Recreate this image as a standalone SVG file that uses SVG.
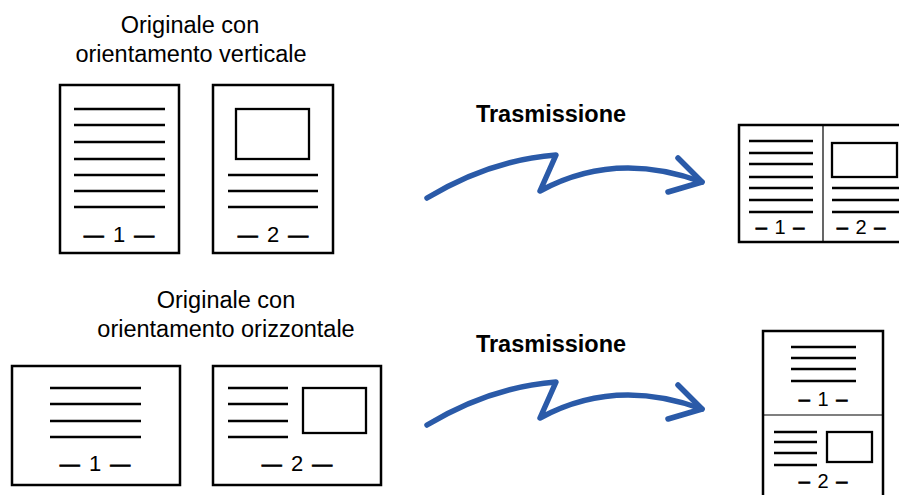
<svg xmlns="http://www.w3.org/2000/svg" width="899" height="495" viewBox="0 0 899 495">
<style>
.pg{fill:#fff;stroke:#000;stroke-width:2.5}
.ln{stroke:#000;stroke-width:2.4;fill:none}
.bx{fill:#fff;stroke:#000;stroke-width:2.3}
.dv{stroke:#000;stroke-width:1.2}
.cap{font-family:"Liberation Sans",Arial,sans-serif;font-size:23.5px;fill:#000;text-anchor:middle}
.tr{font-family:"Liberation Sans",Arial,sans-serif;font-size:23.5px;font-weight:bold;fill:#000;text-anchor:middle}
.num{font-family:"Liberation Sans",Arial,sans-serif;font-size:22px;fill:#000;text-anchor:middle;word-spacing:3px}
.sn{font-family:"Liberation Sans",Arial,sans-serif;font-size:20px;fill:#000;text-anchor:middle;word-spacing:2px}
.d{stroke:#000;stroke-width:0.8}
.num .d{font-size:20px}
.ar{fill:none;stroke:#2a5aa8;stroke-width:5.5;stroke-linecap:round;stroke-linejoin:round}
</style>
<defs>
<g id="arrowShape">
<path class="ar" d="M427,198 Q490,160 556,155 L540,191 Q615,150 702,182"/>
<path class="ar" d="M678,158 L702,182 L668,192"/>
</g>
</defs>

<g id="label-portrait">
<text class="cap" x="190" y="33">Originale con</text>
<text class="cap" x="191" y="62">orientamento verticale</text>
</g>

<g id="portrait-page1">
<rect class="pg" x="60" y="85" width="119" height="168"/>
<path class="ln" d="M74,109H165M74,125H165M74,142H165M74,159H165M74,175H165M74,191H165M74,207H165"/>
<text class="num" x="119" y="242"><tspan class="d">—</tspan> 1 <tspan class="d">—</tspan></text>
</g>

<g id="portrait-page2">
<rect class="pg" x="213" y="85" width="120" height="168"/>
<rect class="bx" x="236" y="109" width="73" height="50"/>
<path class="ln" d="M228,175H318M228,191H318M228,207H318"/>
<text class="num" x="273" y="242"><tspan class="d">—</tspan> 2 <tspan class="d">—</tspan></text>
</g>

<g id="label-trasm-1">
<text class="tr" x="551" y="122">Trasmissione</text>
</g>

<g id="result-portrait">
<rect class="pg" x="739" y="125" width="168" height="117"/>
<line class="dv" x1="823" y1="125" x2="823" y2="242"/>
<path class="ln" d="M749,141H813M749,153H813M749,164H813M749,177H813M749,188H813M749,200H813M749,212H813"/>
<text class="sn" x="780" y="234"><tspan class="d">–</tspan> 1 <tspan class="d">–</tspan></text>
<rect class="bx" x="832" y="143" width="65" height="34"/>
<path class="ln" d="M832,188H899M832,200H899M832,212H899"/>
<text class="sn" x="861" y="234"><tspan class="d">–</tspan> 2 <tspan class="d">–</tspan></text>
</g>

<g id="label-landscape">
<text class="cap" x="226" y="308">Originale con</text>
<text class="cap" x="226" y="337">orientamento orizzontale</text>
</g>

<g id="landscape-page1">
<rect class="pg" x="12" y="366" width="168" height="119"/>
<path class="ln" d="M50,388H141M50,404H141M50,421H141M50,437H141"/>
<text class="num" x="95" y="471"><tspan class="d">—</tspan> 1 <tspan class="d">—</tspan></text>
</g>

<g id="landscape-page2">
<rect class="pg" x="213" y="366" width="168" height="119"/>
<path class="ln" d="M228,388H288M228,404H288M228,421H288M228,437H288"/>
<rect class="bx" x="303" y="388" width="63" height="45"/>
<text class="num" x="297" y="471"><tspan class="d">—</tspan> 2 <tspan class="d">—</tspan></text>
</g>

<g id="label-trasm-2">
<text class="tr" x="551" y="352">Trasmissione</text>
</g>

<g id="result-landscape">
<rect class="pg" x="763" y="331" width="120" height="170"/>
<line class="dv" x1="763" y1="415" x2="883" y2="415"/>
<path class="ln" d="M791,347H856M791,358H856M791,369H856M791,381H856"/>
<text class="sn" x="823" y="406"><tspan class="d">–</tspan> 1 <tspan class="d">–</tspan></text>
<path class="ln" d="M774,432H817M774,442H817M774,453H817M774,465H817"/>
<rect class="bx" x="827" y="432" width="45" height="30"/>
<text class="sn" x="823" y="488"><tspan class="d">–</tspan> 2 <tspan class="d">–</tspan></text>
</g>

<g id="connectors">
<use href="#arrowShape"/>
<use href="#arrowShape" transform="translate(0,227)"/>
</g>
</svg>
